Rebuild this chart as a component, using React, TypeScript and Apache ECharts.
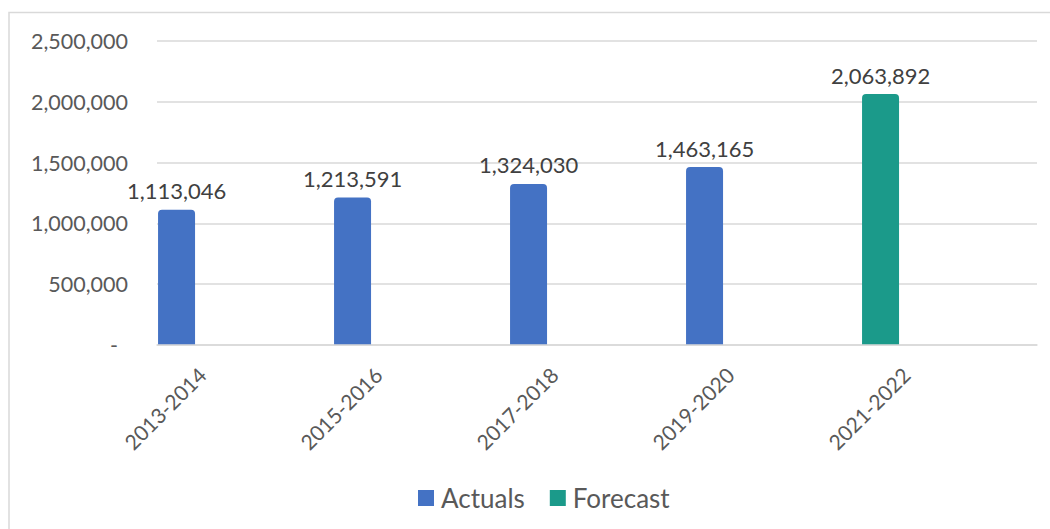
import React, { useEffect, useRef } from "react";
import * as echarts from "echarts";

const categories = ["2013-2014", "2015-2016", "2017-2018", "2019-2020", "2021-2022"];
const actuals: (number | null)[] = [1113046, 1213591, 1324030, 1463165, null];
const forecast: (number | null)[] = [null, null, null, null, 2063892];
const yMin = 0;
const yMax = 2500000;
const yStep = 500000;

const FONT = "Lato";
const AXIS_COLOR = "#595959";
const GRID_COLOR = "#d9d9d9";

const fmt = (v: number) => v.toLocaleString("en-US");

export default function App() {
  const ref = useRef<HTMLDivElement>(null);
  useEffect(() => {
    if (!ref.current) return;
    const chart = echarts.init(ref.current, null, { renderer: "svg" });
    const dataLabel = {
      show: true,
      position: "top" as const,
      distance: 8,
      fontFamily: FONT,
      fontSize: 22,
      color: "#404040",
      formatter: (p: any) => (p.value == null ? "" : fmt(Number(p.value))),
    };
    chart.setOption({
      animation: false,
      backgroundColor: "#ffffff",
      textStyle: { fontFamily: FONT },
      graphic: [
        {
          type: "rect",
          shape: { x: 9, y: 12.5, width: 1200, height: 700 },
          style: { fill: "none", stroke: GRID_COLOR, lineWidth: 1.5 },
          silent: true,
          z: -1,
        },
      ],
      grid: [
        { left: 157, right: 13, top: 41, bottom: 184 },
        { left: 114, right: 56, top: 41, bottom: 184 },
      ],
      legend: {
        data: ["Actuals", "Forecast"],
        left: 418,
        top: 485,
        padding: 0,
        icon: "rect",
        itemWidth: 16,
        itemHeight: 16,
        itemGap: 25,
        textStyle: { fontFamily: FONT, fontSize: 26, color: AXIS_COLOR, padding: [0, 0, 0, 2] },
      },
      xAxis: [
        {
          type: "category",
          gridIndex: 0,
          data: categories,
          z: 5,
          axisLine: { show: true, lineStyle: { color: GRID_COLOR, width: 1.5 } },
          axisTick: { show: false },
          axisLabel: { show: false },
          splitLine: { show: false },
        },
        {
          type: "category",
          gridIndex: 1,
          data: categories,
          axisLine: { show: false },
          axisTick: { show: false },
          splitLine: { show: false },
          axisLabel: {
            show: true,
            rotate: 45,
            margin: 26,
            interval: 0,
            fontFamily: FONT,
            fontSize: 21,
            color: AXIS_COLOR,
          },
        },
      ],
      yAxis: [
        {
          type: "value",
          gridIndex: 0,
          min: yMin,
          max: yMax,
          interval: yStep,
          axisLine: { show: false },
          axisTick: { show: false },
          splitLine: { show: true, lineStyle: { color: GRID_COLOR, width: 1.5 } },
          axisLabel: {
            margin: 29,
            fontFamily: FONT,
            fontSize: 21.5,
            color: AXIS_COLOR,
            formatter: (v: number) => (v === 0 ? "{d|-}" : fmt(v)),
            rich: {
              d: { fontFamily: FONT, fontSize: 21.5, color: AXIS_COLOR, padding: [0, 10, 0, 0] },
            },
          },
        },
        { type: "value", gridIndex: 1, show: false, min: yMin, max: yMax },
      ],
      series: [
        {
          name: "Actuals",
          type: "bar",
          xAxisIndex: 0,
          yAxisIndex: 0,
          stack: "main",
          barWidth: 37,
          barGap: "270%",
          data: actuals,
          itemStyle: { color: "#4472C4", borderRadius: [4, 4, 0, 0] },
          label: dataLabel,
        },
        {
          name: "Forecast",
          type: "bar",
          xAxisIndex: 0,
          yAxisIndex: 0,
          stack: "main",
          barWidth: 37,
          barGap: "270%",
          data: forecast,
          itemStyle: { color: "#1B9A8A", borderRadius: [4, 4, 0, 0] },
          label: dataLabel,
        },
        {
          name: "_spacer",
          type: "bar",
          xAxisIndex: 0,
          yAxisIndex: 0,
          stack: "spacer",
          barWidth: 37,
          barGap: "270%",
          data: [null, null, null, null, null],
          silent: true,
        },
      ],
    });
    return () => chart.dispose();
  }, []);
  return (
    <div
      ref={ref}
      style={{ position: "absolute", left: 0, top: 0, width: 1050, height: 529 }}
    />
  );
}
